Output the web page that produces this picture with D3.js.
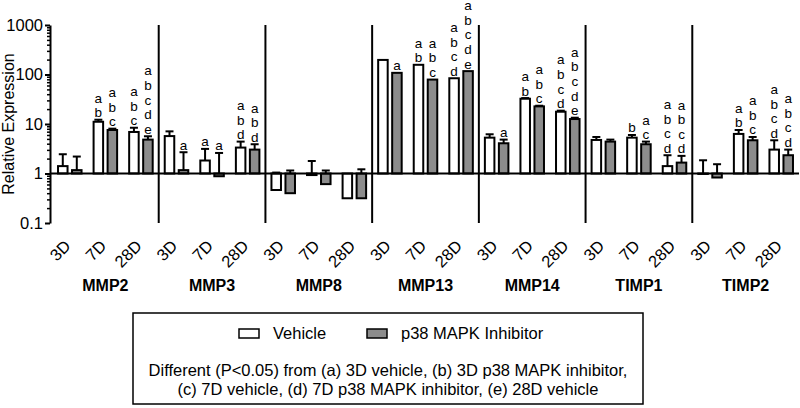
<!DOCTYPE html>
<html>
<head>
<meta charset="utf-8">
<script src="https://cdn.jsdelivr.net/npm/d3@7"></script>
<style>
  body { margin: 0; background: #fff; }
  text { font-family: "Liberation Sans", Arial, sans-serif; fill: #000; }
</style>
</head>
<body>
<script>
// chart data
var genes = ["MMP2", "MMP3", "MMP8", "MMP13", "MMP14", "TIMP1", "TIMP2"];
var times = ["3D", "7D", "28D"];
var series = ["Vehicle", "p38 MAPK Inhibitor"];

// means, 3 timepoints per gene, in gene order
var vehicleMean = [1.41, 11.1, 6.9,  5.7, 1.83, 3.34,  0.464, 0.93, 0.316,  197, 157, 84,
                   5.3, 32.4, 17.7,  4.76, 5.3, 1.41,  0.98, 6.3, 3.04];
var vehicleErr  = [1.04, 1.1, 1.5,  1.4, 1.31, 1.07,  0.58, 0.86, 0.3,  0, 0, 0,
                   0.9, 1.0, 0.9,  0.71, 0.7, 0.93,  0.87, 1.27, 1.65];
var inhibMean   = [1.17, 7.57, 4.84,  1.17, 0.88, 3.04,  0.40, 0.61, 0.316,  108, 79, 117,
                   4.08, 22.7, 12.6,  4.41, 3.9, 1.66,  0.83, 4.69, 2.34];
var inhibErr    = [1.03, 0.48, 0.81,  1.52, 1.72, 0.86,  0.75, 0.54, 0.9,  0, 0, 0,
                   0.76, 0.7, 0.8,  0.43, 0.51, 0.61,  0.71, 0.78, 0.7];

// significance letters
var vehicleLetters = ["", "ab", "abc",  "", "a", "abd",  "", "", "",  "", "ab", "abcd",
                      "", "ab", "abcd",  "", "b", "abcd",  "", "ab", "abcd"];
var inhibLetters   = ["", "abc", "abcde",  "a", "a", "abd",  "", "", "",  "a", "abc", "abcde",
                      "a", "abc", "abcde",  "", "ac", "abcd",  "", "abc", "abcd"];

var yTicks = [0.1, 1, 10, 100, 1000];
var legendNote = ["Different (P<0.05) from (a) 3D vehicle, (b) 3D p38 MAPK inhibitor,",
                  "(c) 7D vehicle, (d) 7D p38 MAPK inhibitor, (e) 28D vehicle"];

var fills = ["#ffffff", "#8c8c8c"];

// build flat rows
var data = [];
genes.forEach(function(g, gi) {
  times.forEach(function(t, ti) {
    var i = gi * 3 + ti;
    data.push({gene: g, time: t, s: 0, v: vehicleMean[i], e: vehicleErr[i], letters: vehicleLetters[i]});
    data.push({gene: g, time: t, s: 1, v: inhibMean[i], e: inhibErr[i], letters: inhibLetters[i]});
  });
});

var width = 800, height = 408;

var svg = d3.select("body").append("svg")
    .attr("width", width)
    .attr("height", height);

// scales
var y = d3.scaleLog()
    .domain([0.1, 1000])
    .range([223, 25]);

var xGene = d3.scaleBand()
    .domain(genes)
    .range([52, 799])
    .padding(0);

var xTime = d3.scaleBand()
    .domain(times)
    .range([0, xGene.bandwidth()])
    .padding(0);

var xSeries = d3.scaleBand()
    .domain([0, 1])
    .range([0, xTime.bandwidth()])
    .paddingInner(0.32)
    .paddingOuter(0.43);

function barX(d) { return xGene(d.gene) + xTime(d.time) + xSeries(d.s); }
function barMid(d) { return barX(d) + xSeries.bandwidth() / 2; }

// group separators
svg.selectAll(".sep")
    .data(genes.slice(1))
  .enter().append("line")
    .attr("x1", function(g) { return xGene(g); })
    .attr("x2", function(g) { return xGene(g); })
    .attr("y1", y(1000))
    .attr("y2", y(0.1))
    .attr("stroke", "#000")
    .attr("stroke-width", 2);

// error bars (drawn under the bars, upper side only)
var err = svg.selectAll(".err")
    .data(data.filter(function(d) { return d.e > 0; }))
  .enter().append("g");

err.append("line")
    .attr("x1", barMid).attr("x2", barMid)
    .attr("y1", function(d) { return y(d.v); })
    .attr("y2", function(d) { return y(d.v + d.e); })
    .attr("stroke", "#000")
    .attr("stroke-width", 2);

err.append("line")
    .attr("x1", function(d) { return barMid(d) - 4; })
    .attr("x2", function(d) { return barMid(d) + 4; })
    .attr("y1", function(d) { return y(d.v + d.e); })
    .attr("y2", function(d) { return y(d.v + d.e); })
    .attr("stroke", "#000")
    .attr("stroke-width", 2);

// bars start at 1
svg.selectAll(".bar")
    .data(data)
  .enter().append("rect")
    .attr("x", barX)
    .attr("width", xSeries.bandwidth())
    .attr("y", function(d) { return y(Math.max(d.v, 1)); })
    .attr("height", function(d) { return Math.abs(y(d.v) - y(1)); })
    .attr("fill", function(d) { return fills[d.s]; })
    .attr("stroke", "#000")
    .attr("stroke-width", 2);

// baseline at 1
svg.append("line")
    .attr("x1", 50).attr("x2", 799)
    .attr("y1", y(1)).attr("y2", y(1))
    .attr("stroke", "#000")
    .attr("stroke-width", 2);

// letters stacked above each bar
data.forEach(function(d) {
  if (!d.letters) return;
  var top = y(Math.max(d.v + d.e, d.v, 1)) - 2.5;
  var n = d.letters.length;
  d.letters.split("").forEach(function(ch, i) {
    svg.append("text")
        .attr("x", barMid(d))
        .attr("y", top - (n - 1 - i) * 14.6)
        .attr("text-anchor", "middle")
        .style("font-size", "13.5px")
        .text(ch);
  });
});

// y axis, major and minor ticks
var minor = [];
[0.1, 1, 10, 100].forEach(function(b) {
  for (var k = 2; k <= 9; k++) minor.push(b * k);
});

var yMinor = svg.append("g")
    .attr("transform", "translate(50,0)")
    .call(d3.axisLeft(y).tickValues(minor).tickSize(3).tickSizeOuter(0).tickFormat(""));
yMinor.select(".domain").remove();
yMinor.selectAll("line").attr("stroke-width", 1.5);

var yAxis = svg.append("g")
    .attr("transform", "translate(50,0)")
    .call(d3.axisLeft(y).tickValues(yTicks).tickSize(5).tickSizeOuter(0).tickPadding(2)
      .tickFormat(function(d) { return d < 1 ? "0.1" : d3.format("d")(d); }));
yAxis.select(".domain").attr("stroke-width", 2);
yAxis.selectAll("line").attr("stroke-width", 2);
yAxis.selectAll("text")
    .style("font-size", "16.5px")
    .style("font-family", "'Liberation Sans', Arial, sans-serif")
    .attr("fill", "#000");

// y axis title
svg.append("text")
    .attr("text-anchor", "middle")
    .attr("transform", "translate(14,124)rotate(-90)")
    .style("font-size", "16px")
    .text("Relative Expression");

// timepoint labels, rotated
genes.forEach(function(g) {
  times.forEach(function(t) {
    var cx = xGene(g) + xTime(t) + xTime.bandwidth() / 2;
    svg.append("text")
        .attr("text-anchor", "end")
        .attr("transform", "translate(" + (cx + 2) + ",247)rotate(-45)")
        .style("font-size", "16.5px")
        .text(t);
  });
});

// gene labels
svg.selectAll(".gene")
    .data(genes)
  .enter().append("text")
    .attr("x", function(g) { return xGene(g) + xGene.bandwidth() / 2; })
    .attr("y", 291)
    .attr("text-anchor", "middle")
    .style("font-size", "16px")
    .style("font-weight", "bold")
    .text(function(g) { return g; });

// legend box
svg.append("rect")
    .attr("x", 133).attr("y", 313)
    .attr("width", 510).attr("height", 91)
    .attr("fill", "none")
    .attr("stroke", "#000")
    .attr("stroke-width", 1.5);

var legendX = [239, 367];
series.forEach(function(s, i) {
  svg.append("rect")
      .attr("x", legendX[i]).attr("y", 329)
      .attr("width", 20).attr("height", 9)
      .attr("fill", fills[i])
      .attr("stroke", "#000")
      .attr("stroke-width", 1.5);
  svg.append("text")
      .attr("x", legendX[i] + 34)
      .attr("y", 339)
      .style("font-size", "16.5px")
      .text(s);
});

legendNote.forEach(function(line, i) {
  svg.append("text")
      .attr("x", 388)
      .attr("y", 376 + i * 19)
      .attr("text-anchor", "middle")
      .style("font-size", "16.5px")
      .text(line);
});
</script>
</body>
</html>
